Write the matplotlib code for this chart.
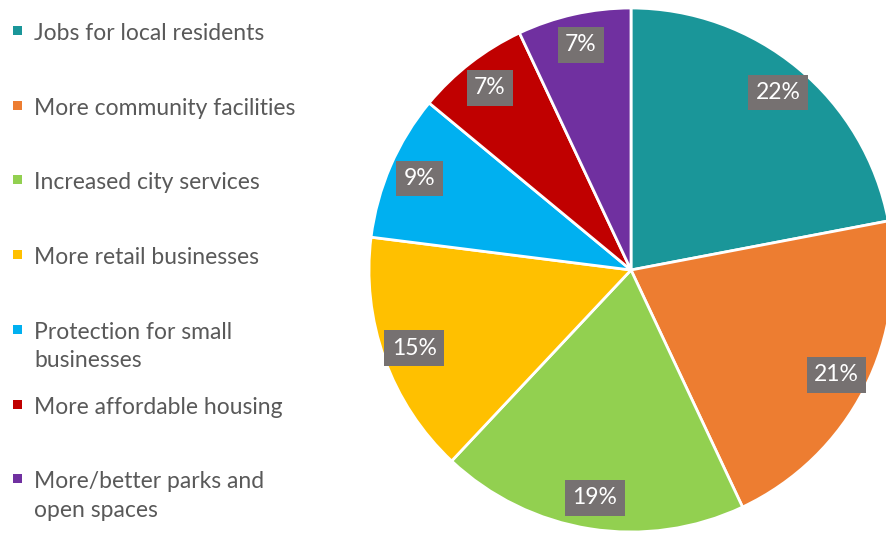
import matplotlib
matplotlib.use("Agg")
import matplotlib.pyplot as plt
from matplotlib.patches import Rectangle

# data
categories = [
    "Jobs for local residents",
    "More community facilities",
    "Increased city services",
    "More retail businesses",
    "Protection for small\nbusinesses",
    "More affordable housing",
    "More/better parks and\nopen spaces",
]
shares = [22, 21, 19, 15, 9, 7, 7]
colors = ["#1A9699", "#ED7D31", "#92D050", "#FFC000", "#00B0F0", "#C00000", "#7030A0"]

plt.rcParams["font.family"] = ["Lato", "DejaVu Sans"]

W, H = 887, 533
fig = plt.figure(figsize=(W / 100, H / 100), dpi=100)

# pie axes: centre (631, 270) px, radius 262 px
cx, cy, r = 631, 270, 262
ax = fig.add_axes([(cx - r) / W, (H - cy - r) / H, 2 * r / W, 2 * r / H])
wedges, texts, autotexts = ax.pie(
    shares,
    colors=colors,
    startangle=90,
    counterclock=False,
    autopct="%d%%",
    pctdistance=0.88,
    radius=1.0,
    wedgeprops=dict(edgecolor="white", linewidth=2),
    textprops=dict(color="white", fontsize=16.5),
)
for w in wedges:
    w.set_clip_on(False)
for t in autotexts:
    t.set_bbox(dict(boxstyle="square,pad=0.32", facecolor="#767171", edgecolor="none"))
ax.set_xlim(-1, 1)
ax.set_ylim(-1, 1)
ax.set_aspect("equal")
ax.axis("off")

# legend drawn by hand, first lines evenly spaced
y0, step = 31, 74.7
for i, (label, c) in enumerate(zip(categories, colors)):
    ypx = y0 + i * step
    fig.patches.append(Rectangle((13 / W, 1 - (ypx + 4) / H), 9 / W, 9 / H,
                                 transform=fig.transFigure, facecolor=c,
                                 edgecolor="none"))
    fig.text(34 / W, 1 - (ypx - 8) / H, label, fontsize=16.5, color="#595959",
             va="top", ha="left", linespacing=1.45)

fig.savefig("out.png", dpi=100)
